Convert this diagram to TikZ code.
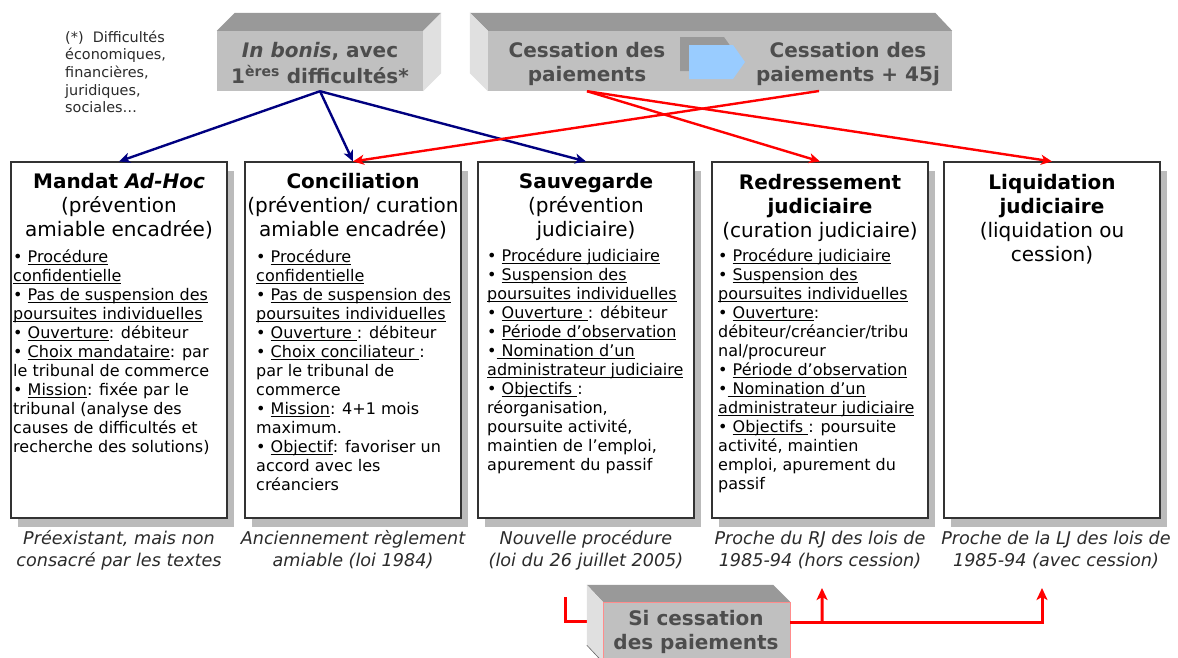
\documentclass[tikz,border=0pt]{standalone}
\usepackage{fontspec}
\setmainfont{DejaVu Sans}[BoldFont={DejaVu Sans Bold},ItalicFont={DejaVu Sans Oblique},BoldItalicFont={DejaVu Sans Bold Oblique}]
\usetikzlibrary{arrows.meta,shadows,calc}
\definecolor{facefront}{HTML}{C0C0C0}
\definecolor{facetop}{HTML}{999999}
\definecolor{faceside}{HTML}{E0E0E0}
\definecolor{boxtext}{HTML}{4D4D4D}
\definecolor{shadowgray}{HTML}{BBBBBB}
\definecolor{navyarrow}{HTML}{000080}
\definecolor{redarrow}{HTML}{FF0000}
\definecolor{arrowblue}{HTML}{99CCFF}
\definecolor{captext}{HTML}{2B2B2B}
\newsavebox\ulbox
\newcommand\undl[1]{\sbox\ulbox{#1}\rlap{\rule[-2.6pt]{\wd\ulbox}{0.9pt}}\usebox\ulbox}
\newcommand\bul{•\ }
\begin{document}
\begin{tikzpicture}[x=1pt,y=-1pt,
  colbox/.style={draw=black!80,line width=1.1pt,fill=white,minimum width=216pt,minimum height=356pt,inner sep=0pt,
    drop shadow={shadow xshift=7pt,shadow yshift=-9pt,fill=shadowgray,opacity=1}},
  frontface/.style={fill=facefront,draw=none,inner sep=0pt},
  titletext/.style={font=\fontsize{20}{24}\selectfont,align=center,inner sep=0pt},
  bodytext/.style={font=\fontsize{16}{19}\selectfont,align=left,inner sep=0pt},
  captiontext/.style={font=\fontsize{17.6}{22}\selectfont\itshape,text=captext,align=center,inner sep=0pt},
  toptext/.style={font=\fontsize{20}{24}\selectfont\bfseries,text=boxtext,align=center,inner sep=0pt},
  notetext/.style={font=\fontsize{14.4}{17.7}\selectfont,text=captext,align=left,inner sep=0pt},
  bluearrow/.style={draw=navyarrow,line width=2.4pt,-{Stealth[length=11pt,width=10pt,inset=3pt]}},
  redline/.style={draw=redarrow,line width=2.4pt,-{Stealth[length=11pt,width=10pt,inset=3pt]}},
  redthick/.style={draw=redarrow,line width=3pt},
  redthickarrow/.style={draw=redarrow,line width=3pt,-{Stealth[length=12pt,width=11pt,inset=3pt]}}
]
\clip (0,0) rectangle (1178,657);
\fill[white] (0,0) rectangle (1178,657);

% note
\node[notetext,anchor=north west] (note) at (65,29.6) {\strut(*)\ \ Difficultés\\économiques,\\financières,\\juridiques,\\sociales…};

% top box In bonis
\node[frontface,minimum width=206pt,minimum height=60pt] (inbonis) at (320,61) {};
\fill[facetop] (inbonis.north west) -- ++(18,-18) -- ($(inbonis.north east)+(18,-18)$) -- (inbonis.north east) -- cycle;
\fill[faceside] (inbonis.north east) -- ++(18,-18) -- ($(inbonis.south east)+(18,-18)$) -- (inbonis.south east) -- cycle;
\node[toptext,anchor=north] (inbonisT) at (320,40) {\strut\textit{In bonis}, avec\\1\textsuperscript{ères} difficultés*};

% top box Cessation
\node[frontface,minimum width=464pt,minimum height=60pt] (cess) at (720,61) {};
\fill[facetop] (cess.north east) -- ++(-17,-18) -- ($(cess.north west)+(-18,-18)$) -- (cess.north west) -- cycle;
\fill[faceside] (cess.north west) -- ++(-18,-18) -- ($(cess.south west)+(-18,-18)$) -- (cess.south west) -- cycle;
\fill[facetop] (680,37) -- (724,37) -- (736,54) -- (724,71) -- (680,71) -- cycle;
\fill[arrowblue] (689,45) -- (733,45) -- (745,62) -- (733,79) -- (689,79) -- cycle;
\node[toptext,anchor=north] (cessT1) at (587,40) {\strut Cessation des\\paiements};
\node[toptext,anchor=north] (cessT2) at (848,40) {\strut Cessation des\\paiements + 45j};
\coordinate (cpA) at (cess.south -| cessT1.north);
\coordinate (cpB) at (819,91);

% column boxes
\node[colbox] (mandat) at (119,340) {};
\node[colbox] (concil) at (353,340) {};
\node[colbox] (sauve) at (586,340) {};
\node[colbox] (redress) at (820,340) {};
\node[colbox] (liquid) at (1052,340) {};

% titles
\node[titletext,anchor=north] (mandatT) at (119,171.5) {\strut\textbf{Mandat \textit{Ad-Hoc}}\\(prévention\\amiable encadrée)};
\node[titletext,anchor=north] (concilT) at (353,171.5) {\strut\textbf{Conciliation}\\(prévention/ curation\\amiable encadrée)};
\node[titletext,anchor=north] (sauveT) at (586,171.5) {\strut\textbf{Sauvegarde}\\(prévention\\judiciaire)};
\node[titletext,anchor=north] (redressT) at (820,172) {\strut\textbf{Redressement}\\\textbf{judiciaire}\\(curation judiciaire)};
\node[titletext,anchor=north] (liquidT) at (1052,172) {\strut\textbf{Liquidation}\\\textbf{judiciaire}\\(liquidation ou\\cession)};

% bodies
\node[bodytext,anchor=north west] (mandatB) at (13,248.5) {\strut\bul\undl{Procédure}\\
\undl{confidentielle}\\
\bul\undl{Pas de suspension des}\\
\undl{poursuites individuelles}\\
\bul\undl{Ouverture}: débiteur\\
\bul\undl{Choix mandataire}: par\\
le tribunal de commerce\\
\bul\undl{Mission}: fixée par le\\
tribunal (analyse des\\
causes de difficultés et\\
recherche des solutions)};

\node[bodytext,anchor=north west] (concilB) at (256,249) {\strut\bul\undl{Procédure}\\
\undl{confidentielle}\\
\bul\undl{Pas de suspension des}\\
\undl{poursuites individuelles}\\
\bul\undl{Ouverture\ }: débiteur\\
\bul\undl{Choix conciliateur\ }:\\
par le tribunal de\\
commerce\\
\bul\undl{Mission}: 4+1 mois\\
maximum.\\
\bul\undl{Objectif}: favoriser un\\
accord avec les\\
créanciers};

\node[bodytext,anchor=north west] (sauveB) at (487,248) {\strut\bul\undl{Procédure judiciaire}\\
\bul\undl{Suspension des}\\
\undl{poursuites individuelles}\\
\bul\undl{Ouverture\ }: débiteur\\
\bul\undl{Période d’observation}\\
•\undl{\ Nomination d’un}\\
\undl{administrateur judiciaire}\\
\bul\undl{Objectifs\ }:\\
réorganisation,\\
poursuite activité,\\
maintien de l’emploi,\\
apurement du passif};

\node[bodytext,anchor=north west] (redressB) at (718,248) {\strut\bul\undl{Procédure judiciaire}\\
\bul\undl{Suspension des}\\
\undl{poursuites individuelles}\\
\bul\undl{Ouverture}:\\
débiteur/créancier/tribu\\
nal/procureur\\
\bul\undl{Période d’observation}\\
•\undl{\ Nomination d’un}\\
\undl{administrateur judiciaire}\\
\bul\undl{Objectifs\ }: poursuite\\
activité, maintien\\
emploi, apurement du\\
passif};

% captions
\node[captiontext,anchor=north] (mandatC) at (119,529) {\strut Préexistant, mais non\\consacré par les textes};
\node[captiontext,anchor=north] (concilC) at (353,529) {\strut Anciennement règlement\\amiable (loi 1984)};
\node[captiontext,anchor=north] (sauveC) at (586,529) {\strut Nouvelle procédure\\(loi du 26 juillet 2005)};
\node[captiontext,anchor=north] (redressC) at (820,529) {\strut Proche du RJ des lois de\\1985-94 (hors cession)};
\node[captiontext,anchor=north] (liquidC) at (1056,529) {\strut Proche de la LJ des lois de\\1985-94 (avec cession)};

% top arrows
\draw[bluearrow] (inbonis.south) -- (mandat.north);
\draw[bluearrow] (inbonis.south) -- (concil.north);
\draw[bluearrow] (inbonis.south) -- (sauve.north);
\draw[redline] (cpB) -- (concil.north);
\draw[redline] (cpA) -- (redress.north);
\draw[redline] (cpA) -- (liquid.north);

% bottom box Si cessation
\coordinate (sauveOut) at (565,597);
\coordinate (rjArr) at (822,588);
\coordinate (ljArr) at (1042,588);
\node[frontface,minimum width=187pt,minimum height=60pt] (sicess) at (696.5,632) {};
\draw[redthick] (sauveOut) |- ($(sicess.north west)+(-8,20)$);
\fill[facetop] (sicess.north east) -- ++(-17,-17) -- ($(sicess.north west)+(-16,-17)$) -- (sicess.north west) -- cycle;
\fill[faceside] (sicess.north west) -- ++(-16,-17) -- ($(sicess.south west)+(-16,-17)$) -- (sicess.south west) -- cycle;
\draw[black!60,line width=0.6pt] ($(sicess.south west)+(-16,-17)$) -- (sicess.south west);
\draw[red!45,line width=0.6pt] (sicess.south west) -- (sicess.north west) -- (sicess.north east) -- (sicess.south east);
\node[toptext,anchor=north] (sicessT) at (696,608) {\strut Si cessation\\des paiements};
\coordinate (branch) at ($(sicess.north east)+(32,21)$);
\draw[redthickarrow] ($(sicess.north east)+(0,21)$) -| (ljArr);
\draw[redthickarrow] (branch) -- (rjArr);
\end{tikzpicture}
\end{document}
